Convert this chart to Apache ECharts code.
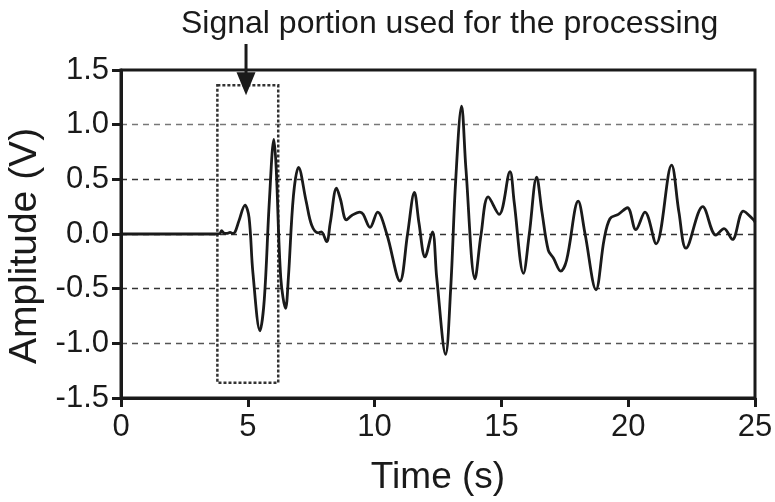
<!DOCTYPE html>
<html>
<head>
<meta charset="utf-8">
<script src="https://cdn.jsdelivr.net/npm/echarts@6/dist/echarts.min.js"></script>
<style>
  html, body { margin: 0; padding: 0; background: #fff; }
  #chart { width: 775px; height: 502px; }
</style>
</head>
<body>
<div id="chart"></div>
<script>
// ---- data ----
var times = [0, 3.8, 3.9, 3.97, 4.05, 4.17, 4.3, 4.4, 4.5, 4.65, 4.89, 5.05, 5.2, 5.48, 5.65, 5.85, 6.03, 6.12, 6.3, 6.49, 6.6, 6.8, 7.0, 7.3, 7.52, 7.78, 7.9, 8.11, 8.25, 8.5, 8.65, 8.89, 9.1, 9.42, 9.55, 9.82, 10.12, 10.48, 11.0, 11.3, 11.57, 11.75, 11.99, 12.28, 12.45, 12.8, 13.0, 13.2, 13.43, 13.6, 13.96, 14.2, 14.48, 14.91, 15.34, 15.5, 15.87, 16.1, 16.39, 16.6, 16.85, 17.05, 17.34, 17.57, 18.03, 18.3, 18.73, 19.05, 19.28, 19.61, 19.97, 20.3, 20.66, 21.1, 21.71, 22.0, 22.28, 22.94, 23.46, 23.78, 24.11, 24.54, 24.94, 25];
var amplitudes = [0, 0, 0.005, 0.03, 0.01, 0.005, 0.015, 0.005, 0.02, 0.12, 0.265, 0.15, -0.35, -0.885, -0.6, 0.3, 0.866, 0.6, -0.4, -0.68, -0.4, 0.35, 0.61, 0.3, 0.08, 0.01, 0.02, -0.07, 0.1, 0.42, 0.32, 0.13, 0.17, 0.2, 0.18, 0.06, 0.2, 0.0, -0.43, 0.0, 0.38, 0.1, -0.21, 0.02, -0.4, -1.1, -0.5, 0.5, 1.17, 0.6, -0.41, 0.0, 0.34, 0.18, 0.57, 0.3, -0.36, 0.0, 0.52, 0.2, -0.15, -0.22, -0.34, -0.24, 0.3, 0.0, -0.51, -0.05, 0.14, 0.18, 0.24, 0.04, 0.2, -0.09, 0.63, 0.2, -0.13, 0.25, -0.01, 0.05, -0.05, 0.21, 0.13, 0.11];
var xTicks = [0, 5, 10, 15, 20, 25];
var yTicks = ["-1.5", "-1.0", "-0.5", "0.0", "0.5", "1.0", "1.5"];
var boxX = [3.8, 6.2];
var boxY = [-1.36, 1.36];
var arrowX = 4.93;
var arrowY = [1.738, 1.27];   // arrow start (above plot) and tip
var titleText = "Signal portion used for the processing";
var xName = "Time (s)";
var yName = "Amplitude (V)";

var points = times.map(function (t, i) { return [t, amplitudes[i]]; });
var FONT = "'Liberation Sans', Arial, sans-serif";
var INK = '#1a1a1a';

var chart = echarts.init(document.getElementById('chart'), null, { renderer: 'canvas' });
chart.setOption({
  animation: false,
  backgroundColor: '#fff',
  title: {
    text: titleText,
    left: 176,
    top: 3,
    textStyle: { fontFamily: FONT, fontSize: 32, fontWeight: 'normal', color: INK }
  },
  grid: {
    left: 121, right: 20, top: 70, bottom: 104,
    outerBoundsMode: 'none', containLabel: false,
    show: true, borderColor: INK, borderWidth: 3, backgroundColor: 'transparent'
  },
  xAxis: {
    type: 'value', min: xTicks[0], max: xTicks[xTicks.length - 1], interval: 5,
    name: xName, nameLocation: 'middle', nameGap: 61,
    nameTextStyle: { fontFamily: FONT, fontSize: 37, color: INK },
    axisLine: { show: true, onZero: false, lineStyle: { color: INK, width: 3 } },
    axisTick: { show: true, length: 9, lineStyle: { color: INK, width: 3 } },
    axisLabel: { margin: 14, fontFamily: FONT, fontSize: 31, color: INK,
      formatter: function (v) { return xTicks.indexOf(v) >= 0 ? String(v) : ''; } },
    splitLine: { show: false }
  },
  yAxis: {
    type: 'value', min: -1.5, max: 1.5, interval: 0.5,
    name: yName, nameLocation: 'middle', nameGap: 73,
    nameTextStyle: { fontFamily: FONT, fontSize: 39, color: INK, padding: [0, 24, 0, 0] },
    axisLine: { show: true, onZero: false, lineStyle: { color: INK, width: 3 } },
    axisTick: { show: true, length: 9, lineStyle: { color: INK, width: 3 } },
    axisLabel: { margin: 12, fontFamily: FONT, fontSize: 31, color: INK,
      formatter: function (v) { return yTicks[Math.round((v + 1.5) / 0.5)]; } },
    splitLine: { show: true, lineStyle: {
      type: [6, 5], width: 1.3,
      color: ['transparent', '#555', '#333', '#333', '#333', '#777', 'transparent'] } }
  },
  series: [{
    type: 'line',
    data: points,
    smooth: 0.35,
    showSymbol: false,
    clip: false,
    lineStyle: { color: INK, width: 2.8 },
    markArea: {
      silent: true,
      itemStyle: { color: 'rgba(0,0,0,0)', borderColor: '#333', borderWidth: 2.5, borderType: [3, 2] },
      label: { show: false },
      data: [[{ coord: [boxX[0], boxY[1]] }, { coord: [boxX[1], boxY[0]] }]]
    }
  }]
});

// Arrow annotation, positioned through the chart's own axes
var pStart = chart.convertToPixel({ gridIndex: 0 }, [arrowX, arrowY[0]]);
var pTip = chart.convertToPixel({ gridIndex: 0 }, [arrowX, arrowY[1]]);
var headH = 23, headW = 19;
chart.setOption({
  graphic: [
    { type: 'line', silent: true, z: 100,
      shape: { x1: pStart[0], y1: pStart[1], x2: pTip[0], y2: pTip[1] - headH + 2 },
      style: { stroke: INK, lineWidth: 3 } },
    { type: 'polygon', silent: true, z: 100,
      shape: { points: [[pTip[0] - headW / 2, pTip[1] - headH], [pTip[0] + headW / 2, pTip[1] - headH], [pTip[0], pTip[1]]] },
      style: { fill: INK } }
  ]
});
</script>
</body>
</html>
